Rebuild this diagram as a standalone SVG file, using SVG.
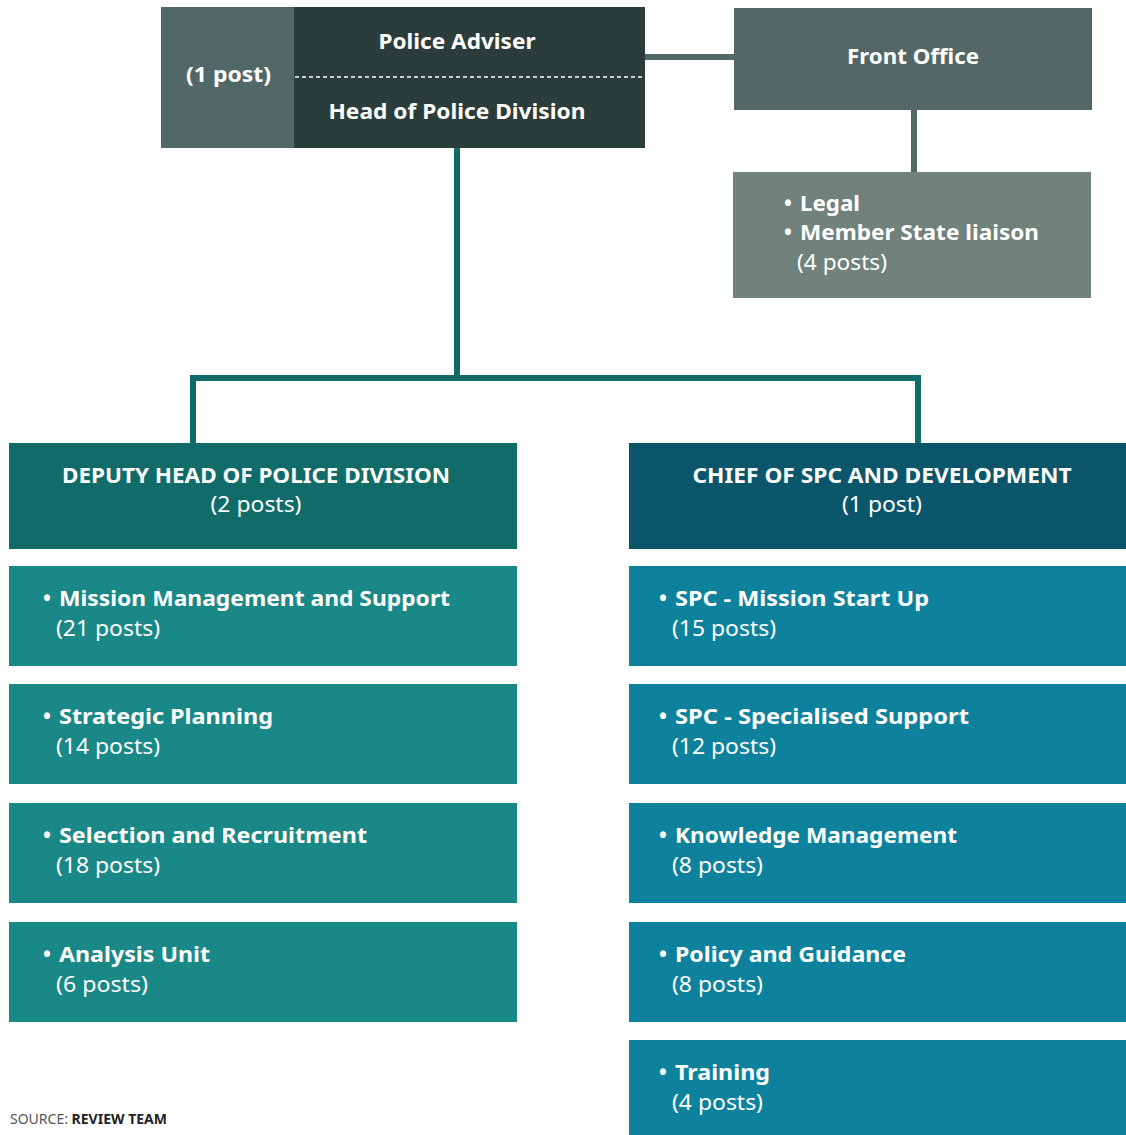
<svg xmlns="http://www.w3.org/2000/svg" width="1126" height="1135" viewBox="0 0 1126 1135">
<style>
text{font-family:"Noto Sans","Liberation Sans",sans-serif;fill:#ffffff}
.b{font-weight:bold;font-size:21px}
.r{font-weight:normal;font-size:21px}
.m{text-anchor:middle}
.conn{fill:none;stroke-width:6}
.lh{fill:#106b69}.rh{fill:#0b566b}.li{fill:#1a8886}.ri{fill:#0e829c}
</style>
<rect width="1126" height="1135" fill="#ffffff"/>
<g id="connectors">
<path class="conn" stroke="#526866" d="M645 57H734"/>
<path class="conn" stroke="#526866" d="M914 110V172"/>
<path class="conn" stroke="#106b69" d="M457 148V378M193 443V378H918V443"/>
</g>
<g id="head">
<rect x="161" y="7" width="133" height="141" fill="#526866"/>
<rect x="294" y="7" width="351" height="141" fill="#2b3d3a"/>
<line x1="295" y1="77" x2="645" y2="77" stroke="#ffffff" stroke-width="1.5" stroke-dasharray="4 3"/>
<text class="b m" x="457" y="49" textLength="157" lengthAdjust="spacingAndGlyphs">Police Adviser</text>
<text class="b" x="186" y="82" textLength="85" lengthAdjust="spacingAndGlyphs">(1 post)</text>
<text class="b m" x="457" y="119" textLength="257" lengthAdjust="spacingAndGlyphs">Head of Police Division</text>
</g>
<g id="front-office">
<rect x="734" y="8" width="358" height="102" fill="#536866"/>
<text class="b m" x="913" y="64" textLength="132" lengthAdjust="spacingAndGlyphs">Front Office</text>
</g>
<g id="legal">
<rect x="733" y="172" width="358" height="126" fill="#71827d"/>
<text class="b" x="784" y="211">•</text>
<text class="b" x="800" y="211" textLength="60" lengthAdjust="spacingAndGlyphs">Legal</text>
<text class="b" x="784" y="240">•</text>
<text class="b" x="800" y="240" textLength="239" lengthAdjust="spacingAndGlyphs">Member State liaison</text>
<text class="r" x="797" y="270" textLength="90" lengthAdjust="spacingAndGlyphs">(4 posts)</text>
</g>
<g id="deputy">
<rect class="lh" x="9" y="443" width="508" height="106"/>
<text class="b m" x="256" y="483" textLength="388" lengthAdjust="spacingAndGlyphs">DEPUTY HEAD OF POLICE DIVISION</text>
<text class="r m" x="256" y="512" textLength="91" lengthAdjust="spacingAndGlyphs">(2 posts)</text>
</g>
<g id="chief">
<rect class="rh" x="629" y="443" width="497" height="106"/>
<text class="b m" x="882" y="483" textLength="379" lengthAdjust="spacingAndGlyphs">CHIEF OF SPC AND DEVELOPMENT</text>
<text class="r m" x="882" y="512" textLength="80" lengthAdjust="spacingAndGlyphs">(1 post)</text>
</g>
<g id="mission-management">
<rect class="li" x="9" y="566" width="508" height="100"/>
<text class="b" x="43" y="606">•</text>
<text class="b" x="59" y="606" textLength="391" lengthAdjust="spacingAndGlyphs">Mission Management and Support</text>
<text class="r" x="56" y="636" textLength="104" lengthAdjust="spacingAndGlyphs">(21 posts)</text>
</g>
<g id="strategic-planning">
<rect class="li" x="9" y="684" width="508" height="100"/>
<text class="b" x="43" y="724">•</text>
<text class="b" x="59" y="724" textLength="214" lengthAdjust="spacingAndGlyphs">Strategic Planning</text>
<text class="r" x="56" y="754" textLength="104" lengthAdjust="spacingAndGlyphs">(14 posts)</text>
</g>
<g id="selection">
<rect class="li" x="9" y="803" width="508" height="100"/>
<text class="b" x="43" y="843">•</text>
<text class="b" x="59" y="843" textLength="308" lengthAdjust="spacingAndGlyphs">Selection and Recruitment</text>
<text class="r" x="56" y="873" textLength="104" lengthAdjust="spacingAndGlyphs">(18 posts)</text>
</g>
<g id="analysis">
<rect class="li" x="9" y="922" width="508" height="100"/>
<text class="b" x="43" y="962">•</text>
<text class="b" x="59" y="962" textLength="151" lengthAdjust="spacingAndGlyphs">Analysis Unit</text>
<text class="r" x="56" y="992" textLength="92" lengthAdjust="spacingAndGlyphs">(6 posts)</text>
</g>
<g id="spc-startup">
<rect class="ri" x="629" y="566" width="497" height="100"/>
<text class="b" x="659" y="606">•</text>
<text class="b" x="675" y="606" textLength="254" lengthAdjust="spacingAndGlyphs">SPC - Mission Start Up</text>
<text class="r" x="672" y="636" textLength="104" lengthAdjust="spacingAndGlyphs">(15 posts)</text>
</g>
<g id="spc-specialised">
<rect class="ri" x="629" y="684" width="497" height="100"/>
<text class="b" x="659" y="724">•</text>
<text class="b" x="675" y="724" textLength="294" lengthAdjust="spacingAndGlyphs">SPC - Specialised Support</text>
<text class="r" x="672" y="754" textLength="104" lengthAdjust="spacingAndGlyphs">(12 posts)</text>
</g>
<g id="knowledge">
<rect class="ri" x="629" y="803" width="497" height="100"/>
<text class="b" x="659" y="843">•</text>
<text class="b" x="675" y="843" textLength="282" lengthAdjust="spacingAndGlyphs">Knowledge Management</text>
<text class="r" x="672" y="873" textLength="91" lengthAdjust="spacingAndGlyphs">(8 posts)</text>
</g>
<g id="policy">
<rect class="ri" x="629" y="922" width="497" height="100"/>
<text class="b" x="659" y="962">•</text>
<text class="b" x="675" y="962" textLength="231" lengthAdjust="spacingAndGlyphs">Policy and Guidance</text>
<text class="r" x="672" y="992" textLength="91" lengthAdjust="spacingAndGlyphs">(8 posts)</text>
</g>
<g id="training">
<rect class="ri" x="629" y="1040" width="497" height="95"/>
<text class="b" x="659" y="1080">•</text>
<text class="b" x="675" y="1080" textLength="95" lengthAdjust="spacingAndGlyphs">Training</text>
<text class="r" x="672" y="1110" textLength="91" lengthAdjust="spacingAndGlyphs">(4 posts)</text>
</g>
<text x="10" y="1124" style="font-size:14px;fill:#555555">SOURCE: <tspan style="font-weight:bold;fill:#222222">REVIEW TEAM</tspan></text>
</svg>
